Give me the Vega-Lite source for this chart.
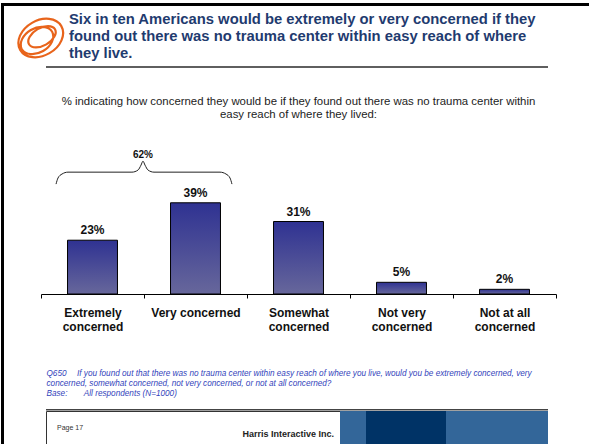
{
  "$schema": "https://vega.github.io/schema/vega-lite/v6.json",
  "padding": {"left": 1, "top": 3, "right": 0, "bottom": 0},
  "autosize": {"type": "pad"},
  "background": "white",
  "config": {"view": {"stroke": null}, "font": "Liberation Sans"},
  "spacing": 0,
  "bounds": "flush",
  "hconcat": [
    {"width": 3, "height": 441, "data": {"values": []}, "mark": "point", "view": {"fill": "#000000", "stroke": null}},
    {
      "spacing": 0,
      "bounds": "flush",
      "vconcat": [
        {"width": 585, "height": 3, "data": {"values": []}, "mark": "point", "view": {"fill": "#000000", "stroke": null}},
        {
          "width": 58,
          "height": 60,
          "data": {"values": [{"brand": "Harris Interactive"}]},
          "mark": {
            "type": "point",
            "shape": "M0.873,-0.475A0.95,0.7,-30,0,1,-0.773,0.475A0.95,0.7,-30,0,1,0.873,-0.475ZM0.506,-0.25A0.7,0.5,-30,0,1,-0.706,0.45A0.7,0.5,-30,0,1,0.506,-0.25ZM0.62,-0.35A0.6,0.35,-30,0,1,-0.42,0.25A0.6,0.35,-30,0,1,0.62,-0.35Z",
            "size": 2500,
            "filled": false,
            "stroke": "#E8641B",
            "strokeWidth": 2.2,
            "opacity": 1,
            "xOffset": 6.5,
            "yOffset": 2
          }
        },
        {
          "spacing": 0,
          "bounds": "flush",
          "hconcat": [
            {"width": 42, "height": 2, "data": {"values": []}, "mark": "point"},
            {
              "width": 502,
              "height": 2,
              "view": {"fill": "#5f5f5f", "stroke": null},
              "title": {
                "text": ["Six in ten Americans would be extremely or very concerned if they", "found out there was no trauma center within easy reach of where", "they live."],
                "anchor": "start",
                "frame": "group",
                "dx": 23,
                "offset": 5,
                "font": "Liberation Sans",
                "fontSize": 14.8,
                "fontWeight": "bold",
                "color": "#1F3B6F",
                "lineHeight": 17
              },
              "data": {"values": []},
              "mark": "point"
            }
          ]
        },
        {"width": 1, "height": 83, "data": {"values": []}, "mark": "point"},
        {
          "spacing": 0,
          "bounds": "flush",
          "hconcat": [
            {"width": 37, "height": 145, "data": {"values": []}, "mark": "point"},
            {
              "width": 515,
              "height": 145,
              "title": {
                "text": ["% indicating how concerned they would be if they found out there was no trauma center within", "easy reach of where they lived:"],
                "anchor": "middle",
                "offset": 29,
                "font": "Liberation Sans",
                "fontSize": 11.4,
                "fontWeight": "normal",
                "color": "#222222",
                "lineHeight": 12.5
              },
              "resolve": {"scale": {"x": "independent"}, "axis": {"x": "independent"}},
              "layer": [
                {
                  "data": {"values": [
                    {"level": "Extremely concerned", "share": 0.23},
                    {"level": "Very concerned", "share": 0.39},
                    {"level": "Somewhat concerned", "share": 0.31},
                    {"level": "Not very concerned", "share": 0.05},
                    {"level": "Not at all concerned", "share": 0.02}
                  ]},
                  "encoding": {
                    "x": {
                      "field": "level",
                      "type": "nominal",
                      "sort": null,
                      "scale": {"paddingInner": 0, "paddingOuter": 0},
                      "axis": {
                        "title": ["Q650\u2003 If you found out that there was no trauma center within easy reach of where you live, would you be extremely concerned, very", "concerned, somewhat concerned, not very concerned, or not at all concerned?", "Base:\u2003\u2003All respondents (N=1000)"],
                        "tickBand": "extent",
                        "labelAngle": 0,
                        "labelExpr": "isValid(datum.value) ? (datum.value == 'Very concerned' ? datum.value : [replace(datum.value, ' concerned', ''), 'concerned']) : ''",
                        "labelFont": "Liberation Sans",
                        "labelFontWeight": "bold",
                        "labelFontSize": 12,
                        "labelColor": "#111111",
                        "labelLineHeight": 14,
                        "labelPadding": 9.5,
                        "tickSize": 4,
                        "tickColor": "#000000",
                        "domainColor": "#000000",
                        "titleX": 5,
                        "titleY": 75,
                        "titleAlign": "left",
                        "titleBaseline": "top",
                        "titleAngle": 0,
                        "titleFont": "Liberation Sans",
                        "titleFontSize": 8.2,
                        "titleFontStyle": "italic",
                        "titleFontWeight": "normal",
                        "titleColor": "#3344BB",
                        "titleLineHeight": 10
                      }
                    },
                    "y": {"field": "share", "type": "quantitative", "scale": {"domain": [0, 0.62], "nice": false}, "axis": null}
                  },
                  "layer": [
                    {
                      "mark": {
                        "type": "bar",
                        "width": {"band": 0.485},
                        "fill": {"gradient": "linear", "x1": 0, "y1": 0, "x2": 0, "y2": 1, "stops": [{"offset": 0, "color": "#2F3292"}, {"offset": 1, "color": "#67679B"}]},
                        "stroke": "#000000",
                        "strokeWidth": 1
                      }
                    },
                    {
                      "mark": {"type": "text", "baseline": "alphabetic", "dy": -6, "font": "Liberation Sans", "fontSize": 12, "fontWeight": "bold", "color": "#111111"},
                      "encoding": {"text": {"field": "share", "type": "quantitative", "format": ".0%"}}
                    }
                  ]
                },
                {
                  "data": {"values": [
                    {"pos": 0.146, "lift": 0.470},
                    {"pos": 0.165, "lift": 0.496},
                    {"pos": 0.204, "lift": 0.513},
                    {"pos": 0.262, "lift": 0.521},
                    {"pos": 0.883, "lift": 0.521},
                    {"pos": 0.942, "lift": 0.530},
                    {"pos": 0.971, "lift": 0.551},
                    {"pos": 0.990, "lift": 0.568, "note": "62%"},
                    {"pos": 1.010, "lift": 0.551},
                    {"pos": 1.039, "lift": 0.530},
                    {"pos": 1.097, "lift": 0.521},
                    {"pos": 1.738, "lift": 0.521},
                    {"pos": 1.796, "lift": 0.513},
                    {"pos": 1.835, "lift": 0.496},
                    {"pos": 1.854, "lift": 0.470}
                  ]},
                  "encoding": {
                    "x": {"field": "pos", "type": "quantitative", "scale": {"domain": [0, 5], "nice": false, "zero": false}, "axis": null},
                    "y": {"field": "lift", "type": "quantitative", "axis": null}
                  },
                  "layer": [
                    {"mark": {"type": "line", "interpolate": "monotone", "color": "#222222", "strokeWidth": 1}},
                    {
                      "transform": [{"filter": "isValid(datum.note)"}],
                      "mark": {"type": "text", "baseline": "alphabetic", "dy": -3.5, "font": "Liberation Sans", "fontSize": 10, "fontWeight": "bold", "color": "#111111"},
                      "encoding": {"text": {"field": "note", "type": "nominal"}}
                    }
                  ]
                }
              ]
            }
          ]
        },
        {"width": 1, "height": 259.5, "data": {"values": []}, "mark": "point"},
        {
          "spacing": 0,
          "bounds": "flush",
          "hconcat": [
            {"width": 42, "height": 1.5, "data": {"values": []}, "mark": "point"},
            {"width": 502, "height": 1.5, "data": {"values": []}, "mark": "point", "view": {"fill": "#444444", "stroke": null}}
          ]
        },
        {"width": 1, "height": 1.5, "data": {"values": []}, "mark": "point"},
        {
          "spacing": 0,
          "bounds": "flush",
          "hconcat": [
            {"width": 42, "height": 33.5, "data": {"values": []}, "mark": "point"},
            {
              "width": 294,
              "height": 33.5,
              "view": {"fill": "#ffffff", "stroke": "#333333", "strokeWidth": 1},
              "data": {"values": [{"part": "page", "caption": "Page 17"}, {"part": "company", "caption": "Harris Interactive Inc."}]},
              "layer": [
                {
                  "transform": [{"filter": "datum.part == 'page'"}],
                  "mark": {"type": "text", "align": "left", "dx": -136, "font": "Liberation Sans", "fontSize": 7, "color": "#333333"},
                  "encoding": {"text": {"field": "caption", "type": "nominal"}}
                },
                {
                  "transform": [{"filter": "datum.part == 'company'"}],
                  "mark": {"type": "text", "align": "right", "dx": 141, "dy": 6, "font": "Liberation Sans", "fontSize": 9, "fontWeight": "bold", "color": "#222222"},
                  "encoding": {"text": {"field": "caption", "type": "nominal"}}
                }
              ]
            },
            {"width": 26, "height": 33.5, "data": {"values": []}, "mark": "point", "view": {"fill": "#336699", "stroke": null}},
            {"width": 80, "height": 33.5, "data": {"values": []}, "mark": "point", "view": {"fill": "#003366", "stroke": null}},
            {"width": 102, "height": 33.5, "data": {"values": []}, "mark": "point", "view": {"fill": "#336699", "stroke": null}}
          ]
        }
      ]
    }
  ]
}
